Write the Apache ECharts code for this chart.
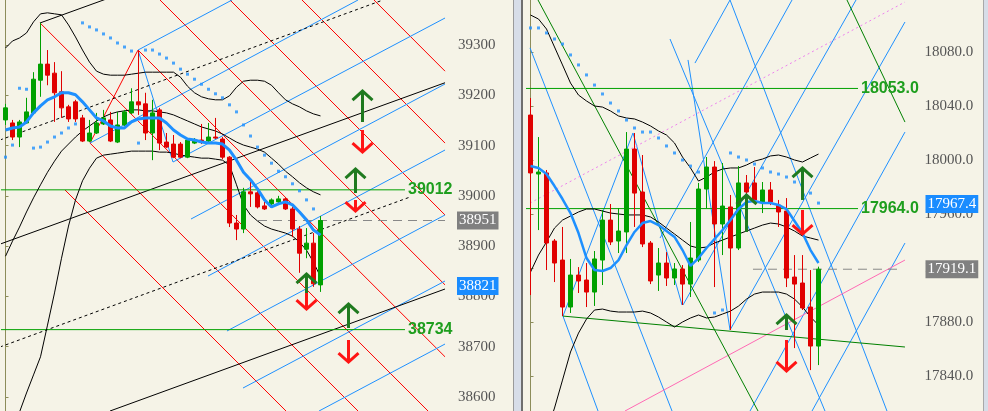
<!DOCTYPE html>
<html><head><meta charset="utf-8">
<script src="https://cdn.jsdelivr.net/npm/echarts@6/dist/echarts.min.js"></script>
<style>html,body{margin:0;padding:0;background:#f5f3e7;}#c{width:988px;height:411px;}</style>
</head><body><div id="c"></div>
<script>
// ---------- LEFT PANEL DATA ----------
// candles: [open, close, low, high]
const leftCandles = [
[39151,39175,39141,39183],[39145,39117,39111,39151],[39117,39147,39097,39151],[39145,39167,39143,39195],
[39165,39232,39161,39246],[39230,39262,39197,39344],[39262,39240,39220,39290],[39244,39205,39147,39266],
[39207,39175,39155,39248],[39177,39153,39147,39181],[39187,39153,39147,39191],[39155,39109,39107,39161],
[39109,39125,39107,39151],[39125,39145,39123,39165],[39143,39155,39141,39171],[39151,39109,39107,39167],
[39107,39141,39105,39167],[39141,39167,39139,39171],[39165,39187,39163,39214],[39187,39181,39161,39290],
[39183,39125,39111,39205],[39125,39165,39071,39191],[39171,39105,39091,39175],[39107,39097,39095,39125],
[39103,39077,39075,39121],[39103,39077,39075,39107],[39077,39111,39075,39113],[39105,39111,39103,39115],
[39111,39107,39103,39143],[39109,39117,39105,39145],[39117,39115,39113,39155],[39113,39077,39073,39117],
[39077,38946,38938,39079],[38946,38934,38912,38962],[38934,39008,38926,39016],[39008,39004,38978,39028],
[39006,38978,38975,39010],[38980,38974,38972,38988],[38984,38992,38982,38995],[38988,38994,38986,39000],
[38994,38974,38972,38997],[38974,38934,38918,38978],[38934,38886,38847,38940],[38894,38906,38876,38936],
[38906,38825,38819,38926],[38823,38951,38809,38960]];
const leftMA = [39131,39135,39137,39147,39165,39179,39191,39197,39205,39205,39201,39187,39171,39155,39149,39139,39135,39135,39147,39153,39155,39155,39155,39145,39131,39121,39113,39111,39107,39105,39105,39103,39091,39071,39047,39032,39014,38992,38978,38984,38988,38982,38968,38952,38932,38922];
const leftUpper = [39294,39308,39314,39324,39346,39362,39364,39362,39360,39340,39316,39290,39266,39248,39242,39240,39240,39240,39242,39244,39246,39246,39246,39246,39246,39236,39218,39205,39197,39193,39191,39191,39199,39216,39228,39230,39230,39228,39220,39205,39191,39183,39177,39169,39163,39159];
const leftMiddle = [38880,38910,38938,38968,38996,39022,39047,39069,39089,39103,39117,39129,39139,39149,39157,39163,39167,39169,39171,39171,39169,39169,39167,39165,39161,39155,39149,39143,39137,39133,39129,39123,39115,39107,39101,39097,39093,39087,39075,39063,39049,39038,39026,39016,39008,39002];
const leftLower = [38475,38524,38570,38608,38644,38680,38743,38807,38876,38940,38992,39030,39055,39075,39081,39083,39085,39087,39089,39089,39089,39089,39087,39087,39085,39081,39079,39077,39075,39075,39073,39071,39061,39022,38982,38962,38950,38940,38934,38930,38926,38920,38908,38892,38868,38839];
const leftSAR = [39077,39101,39214,39212,39095,39097,39107,39117,39125,39135,39143,39344,39336,39330,39322,39314,39304,39296,39288,39105,39290,39290,39282,39274,39264,39252,39242,39232,39222,39212,39203,39195,39181,39167,39141,39119,39097,39081,39065,39049,39038,39024,39010,38992,38974,null];
// drawn line objects: [[index, price], [index, price]]
const leftRedLines = [
[[8.5,39011.7],[40.07,38572.2]],[[12.07,39105],[50.36,38572.2]],[[4.93,39344],[60.36,38572.2]],
[[18.93,39290],[62.79,38680]],[[22.07,39389.5],[62.79,38823]],[[32.07,39389.5],[62.79,38962]],
[[42.36,39389.5],[62.79,39105]],[[52.64,39389.5],[62.79,39248]],[[12.07,39105],[18.93,39290]]];
const leftBlueLines = [
[[18.93,39290],[32.36,39389.5]],[[12.07,39105],[50.36,39389.5]],[[23.93,39067.3],[62.79,39353.7]],
[[26.5,38954],[62.79,39222.5]],[[28.93,38840.6],[62.79,39091.2]],[[31.64,38731.3],[62.79,38962]],
[[33.93,38617.9],[62.79,38830.7]],[[44.79,38572.2],[62.79,38705.4]],[[18.93,39290],[23.93,39067.3]]];
const leftBlackLines = [
[[4.93,39343.8],[14.5,39392]],[[-0.79,38904],[62.79,39225]],[[14.93,38572.2],[62.79,38814.8]]];
const leftBlackDashed = [
[[-0.79,39111.1],[53.93,39389.5]],[[-0.79,38699.5],[57.79,38997.7]]];
const leftLevels = [39012, 38734];
const leftLevelSpan = [-0.79, 57.07];
const leftLastLine = [[36.07,38951],[62.79,38951]];
const leftTags = [[38951,'38951'],[38821,'38821']];
const leftUpArrows = [[51,39210.5,39146.9],[50,39055.4,39005.7],[43,38846.6,38806.8],[49,38786.9,38737.2]];
const leftDownArrows = [[51,39085.2,39131.0],[50,38967.9,38991.8],[43,38773.0,38806.8],[49,38667.6,38713.4]];
const leftTicks = [38600,38700,38800,38900,39000,39100,39200,39300];

// ---------- RIGHT PANEL DATA ----------
const rightCandles = [
[18033.3,17990.4,17900.0,18045.9],[17989.6,17991.1,17948.1,18017.0],[17990.4,17938.5,17918.5,17992.6],
[17940.0,17923.7,17909.6,17941.5],[17925.9,17891.1,17884.4,17950.4],[17891.1,17914.8,17886.7,17926.7],
[17914.8,17910.4,17901.5,17920.7],[17911.1,17902.2,17891.1,17923.7],[17902.2,17926.7,17891.9,17932.6],
[17925.9,17955.5,17907.4,17963.0],[17955.5,17939.3,17937.0,17967.4],[17940.0,17947.4,17931.1,17964.4],
[17946.7,18008.1,17931.1,18020.7],[18008.1,17975.5,17950.4,18020.0],[17976.3,17937.8,17935.5,18003.7],
[17938.5,17910.4,17908.1,17940.0],[17914.8,17923.7,17903.0,17934.8],[17923.7,17912.6,17906.7,17931.8],
[17912.6,17919.3,17907.4,17923.7],[17919.3,17908.1,17892.6,17922.2],[17908.1,17927.4,17898.5,17954.1],
[17925.9,17978.5,17924.4,17983.0],[17978.5,17994.8,17964.4,18002.2],[17994.8,17952.6,17905.9,17999.2],
[17952.6,17965.9,17929.6,17997.8],[17965.2,17934.8,17874.1,17974.1],[17934.8,17983.0,17933.3,17995.5],
[17983.0,17976.3,17970.4,17988.9],[17983.0,17970.4,17968.1,17994.8],[17968.9,17977.8,17960.7,17983.7],
[17977.8,17968.9,17966.6,17983.7],[17966.6,17961.5,17950.4,17970.4],[17962.2,17912.6,17905.9,17971.8],
[17913.3,17908.1,17860.7,17929.6],[17908.9,17890.4,17888.9,17929.6],[17891.1,17862.2,17844.4,17918.5],
[17862.2,17919.1,17848.1,17921.0]];
const rightMA = [17995.5,17994.1,17989.6,17980.7,17971.1,17960.7,17945.9,17927.4,17918.5,17917.8,17920.0,17925.9,17937.0,17946.7,17953.3,17954.8,17951.8,17947.4,17943.0,17933.3,17921.5,17927.4,17934.8,17941.5,17948.1,17955.5,17963.7,17968.9,17969.6,17968.1,17968.1,17966.7,17963.7,17954.8,17945.9,17933.3,17923.7];
const rightUpper = [18107.4,18104.4,18097.0,18083.7,18070.4,18057.0,18048.1,18043.7,18040.0,18039.2,18036.3,18032.6,18031.1,18030.4,18028.1,18025.2,18021.5,18018.5,18012.6,18002.2,17994.1,17984.4,17987.4,17991.1,17993.3,17994.1,17994.1,17996.3,17999.2,18000.7,18003.0,18003.7,18002.2,18000.0,17998.5,18001.5,18004.4];
const rightMiddle = [17917.0,17929.6,17939.3,17949.6,17955.5,17958.5,17961.5,17963.7,17963.7,17962.2,17960.7,17960.0,17959.3,17959.3,17959.3,17957.8,17954.1,17949.6,17945.2,17940.7,17936.3,17934.8,17935.5,17938.5,17940.7,17943.0,17945.2,17947.4,17949.6,17951.8,17953.3,17952.6,17950.4,17947.4,17943.7,17942.2,17940.7];
const rightLower = [null,17770.4,17798.5,17816.3,17837.0,17857.8,17871.8,17882.2,17888.9,17889.6,17888.1,17887.4,17887.4,17887.4,17888.1,17886.7,17883.7,17880.0,17876.3,17880.0,17883.0,17885.2,17883.0,17883.7,17885.9,17888.1,17891.8,17897.0,17900.7,17902.2,17902.2,17902.2,17900.7,17897.0,17891.1,17883.7,17877.8];
const rightSAR = [18097.8,18097.8,18094.1,18089.6,18085.9,18077.8,18070.4,18063.0,18055.5,18048.9,18042.2,18036.3,18029.6,18023.7,18020.7,18020.7,18016.3,18010.4,18005.2,18000.0,17995.5,17991.1,null,17886.7,17888.9,18005.2,18002.2,18000.0,17997.0,17994.1,17991.1,17989.6,17987.4,17983.7,17980.0,17975.5,17968.1];
const rightBlueLines = [
[[-0.06,18083.0],[17.69,17814.1]],[[4.06,17884.4],[8.44,17814.1]],[[17.44,18089.6],[36.81,17814.1]],
[[24.94,18118.5],[44.56,17814.1]],[[4.06,17884.4],[12.81,18020.0]],[[12.81,18020.0],[18.94,17892.6]],
[[19.69,18074.1],[24.94,17874.1]],[[20.56,18071.8],[24.94,18118.5]],[[16.19,17942.2],[32.69,18118.5]],
[[19.06,17892.6],[40.69,18118.5]],[[24.94,17874.1],[46.81,18102.2]],[[27.44,17814.1],[46.81,18020.7]],
[[35.19,17814.1],[46.81,17938.5]]];
const rightPinkDotted = [[[-0.06,17968.1],[46.81,18117.0]]];
const rightPinkSolid = [[[11.81,17814.1],[46.81,17925.9]]];
const rightGreenLines = [
[[0.94,18118.5],[28.44,17814.1]],[[39.56,18118.5],[46.81,18028.1]],[[4.06,17884.4],[46.81,17861.5]]];
const rightLevels = [18053.0, 17964.0];
const rightLevelSpan = [-0.94, 40.94];
const rightLastLine = [[27.81,17919.1],[45.94,17919.1]];
const rightTags = [[17967.4,'17967.4'],[17919.1,'17919.1']];
const rightUpArrows = [[34,17994.8,17970.4],[27,17974.8,17946.7],[32,17885.9,17874.1]];
const rightDownArrows = [[34,17944.4,17963.0],[32,17843.0,17866.7]];
const rightTicks = [17840,17880,17920,17960,18000,18040,18080];

// ---------- CHART ----------
const BG = '#f5f3e7', UPC = '#00a000', DNC = '#e00000', BLUE = '#1e90ff';
const AXC = '#8c8c5a', ARR_G = '#1f7a1f', ARR_R = '#ff1414';
const leftCats = Array.from({length: 64}, (_, i) => String(i));
const rightCats = Array.from({length: 49}, (_, i) => String(i));
const serif = 'Liberation Serif, Times New Roman, serif';

function segSeries(data, x, y, color, type, z) {
  return {type: 'lines', coordinateSystem: 'cartesian2d', xAxisIndex: x, yAxisIndex: y, clip: true,
    silent: true, z: z || 1, polyline: false,
    lineStyle: {color: color, width: 1, type: type || 'solid', opacity: 1},
    data: data.map(s => ({coords: s}))};
}
function levelSeries(v, span, x, y, txt) {
  return {type: 'line', xAxisIndex: x, yAxisIndex: y, symbol: 'none', silent: true, z: 2, clip: false,
    lineStyle: {color: '#00a000', width: 1}, data: [[span[0], v], [span[1], v]],
    endLabel: {show: true, formatter: txt, color: '#1e9e1e', fontWeight: 'bold', fontSize: 16,
      fontFamily: 'Liberation Sans, Arial, sans-serif', distance: 3}};
}
function dashSeries(d, x, y) {
  return {type: 'line', xAxisIndex: x, yAxisIndex: y, symbol: 'none', silent: true, z: 2,
    lineStyle: {color: '#888', width: 1, type: [9, 6]}, data: d};
}
function bandSeries(d, x, y) {
  return {type: 'line', xAxisIndex: x, yAxisIndex: y, symbol: 'none', silent: true, z: 3,
    lineStyle: {color: '#000', width: 1}, data: d, connectNulls: false};
}
// price tags on the axis: a tiny invisible line series ending at the grid edge, with an end label
function tagSeries(t, xEnd, x, y, bg) {
  return {type: 'line', xAxisIndex: x, yAxisIndex: y, symbol: 'none', silent: true, z: 20, clip: false,
    lineStyle: {width: 0, color: 'rgba(0,0,0,0)'}, data: [[xEnd - 0.2, t[0]], [xEnd, t[0]]],
    endLabel: {show: true, formatter: t[1], distance: 7, color: '#fff', backgroundColor: bg,
      padding: [2, 2, 1, 2], fontFamily: serif, fontSize: 15}};
}
function arrowRender(color) {
  return function (params, api) {
    const x = api.value(0);
    const tip = api.coord([x, api.value(1)]);
    const tail = api.coord([x, api.value(2)]);
    const dir = tail[1] > tip[1] ? 1 : -1;
    const h = 10;
    return {type: 'group', children: [
      {type: 'line', shape: {x1: tip[0], y1: tip[1] + dir, x2: tail[0], y2: tail[1]},
        style: {stroke: color, lineWidth: 3}},
      {type: 'polyline', shape: {points: [[tip[0] - h, tip[1] + dir * h], [tip[0], tip[1] + dir], [tip[0] + h, tip[1] + dir * h]]},
        style: {stroke: color, lineWidth: 3, fill: null}}
    ]};
  };
}
function arrowSeries(d, x, y, color) {
  return {type: 'custom', xAxisIndex: x, yAxisIndex: y, silent: true, z: 8, clip: false,
    renderItem: arrowRender(color), encode: {x: 0, y: [1, 2]}, data: d};
}
function candleSeries(d, x, y) {
  return {type: 'candlestick', xAxisIndex: x, yAxisIndex: y, barWidth: 4, silent: true, z: 5,
    itemStyle: {color: UPC, color0: DNC, borderColor: UPC, borderColor0: DNC, borderWidth: 1},
    data: d.map(c => [c[0], c[1], c[2], c[3]])};
}
function maSeries(d, x, y, w) {
  return {type: 'line', xAxisIndex: x, yAxisIndex: y, symbol: 'none', silent: true, z: 6,
    lineStyle: {color: BLUE, width: w}, data: d};
}
function sarSeries(d, x, y) {
  return {type: 'scatter', xAxisIndex: x, yAxisIndex: y, symbol: 'rect', symbolSize: 3, silent: true, z: 6,
    itemStyle: {color: BLUE}, data: d.map(v => v == null ? '-' : v)};
}
const axisFont = {fontFamily: serif, fontSize: 15, color: '#555'};

const option = {
  backgroundColor: BG,
  animation: false,
  grid: [
    {left: 2, top: 0, width: 448, height: 411},
    {left: 526.5, top: 0, width: 392, height: 411}
  ],
  xAxis: [
    {type: 'category', gridIndex: 0, data: leftCats, show: false, boundaryGap: true},
    {type: 'category', gridIndex: 1, data: rightCats, show: false, boundaryGap: true},
    {type: 'value', gridIndex: 0, min: -0.5, max: 63.5, show: false, position: 'top'},
    {type: 'value', gridIndex: 1, min: -0.5, max: 48.5, show: false, position: 'top'}
  ],
  yAxis: [
    {type: 'value', gridIndex: 0, position: 'right', offset: 3, min: 38572.2, max: 39389.5, scale: true,
      axisLine: {show: true, lineStyle: {color: AXC}},
      axisTick: {show: true, length: 3, customValues: leftTicks, lineStyle: {color: AXC}},
      axisLabel: Object.assign({customValues: leftTicks, margin: 5, formatter: v => String(v)}, axisFont),
      splitLine: {show: false}},
    {type: 'value', gridIndex: 1, position: 'right', min: 17814.1, max: 18118.5, scale: true,
      axisLine: {show: true, lineStyle: {color: AXC}},
      axisTick: {show: true, length: 3, customValues: rightTicks, lineStyle: {color: AXC}},
      axisLabel: Object.assign({customValues: rightTicks, margin: 6, formatter: v => v.toFixed(1)}, axisFont),
      splitLine: {show: false}}
  ],
  graphic: [
    {type: 'rect', shape: {x: 513, y: 0, width: 10, height: 411}, style: {fill: '#d7dde8'}, z: 100},
    {type: 'line', shape: {x1: 513.5, y1: 0, x2: 513.5, y2: 411}, style: {stroke: '#9a9a9a', lineWidth: 1}, z: 101},
    {type: 'line', shape: {x1: 522, y1: 0, x2: 522, y2: 411}, style: {stroke: '#6e6e6e', lineWidth: 2}, z: 101},
    {type: 'rect', shape: {x: 983, y: 0, width: 5, height: 411}, style: {fill: '#d7dde8'}, z: 100},
    {type: 'line', shape: {x1: 983.5, y1: 0, x2: 983.5, y2: 411}, style: {stroke: '#a8a8a8', lineWidth: 1}, z: 101}
  ],
  series: [
    // left
    segSeries(leftRedLines, 2, 0, '#ff0000'),
    segSeries(leftBlueLines, 2, 0, BLUE),
    segSeries(leftBlackLines, 2, 0, '#000000'),
    segSeries(leftBlackDashed, 2, 0, '#000000', [3, 3]),
    levelSeries(leftLevels[0], leftLevelSpan, 2, 0, String(leftLevels[0])),
    levelSeries(leftLevels[1], leftLevelSpan, 2, 0, String(leftLevels[1])),
    dashSeries(leftLastLine, 2, 0),
    bandSeries(leftUpper, 0, 0), bandSeries(leftMiddle, 0, 0), bandSeries(leftLower, 0, 0),
    candleSeries(leftCandles, 0, 0),
    maSeries(leftMA, 0, 0, 3),
    sarSeries(leftSAR, 0, 0),
    arrowSeries(leftUpArrows, 2, 0, ARR_G),
    arrowSeries(leftDownArrows, 2, 0, ARR_R),
    tagSeries(leftTags[0], 63.5, 2, 0, '#808080'),
    tagSeries(leftTags[1], 63.5, 2, 0, '#1a8cff'),
    // right
    segSeries(rightBlueLines, 3, 1, BLUE),
    segSeries(rightPinkDotted, 3, 1, '#ee82ee', [2, 3]),
    segSeries(rightPinkSolid, 3, 1, '#ff69b4'),
    segSeries(rightGreenLines, 3, 1, '#008000'),
    levelSeries(rightLevels[0], rightLevelSpan, 3, 1, rightLevels[0].toFixed(1)),
    levelSeries(rightLevels[1], rightLevelSpan, 3, 1, rightLevels[1].toFixed(1)),
    dashSeries(rightLastLine, 3, 1),
    bandSeries(rightUpper, 1, 1), bandSeries(rightMiddle, 1, 1), bandSeries(rightLower, 1, 1),
    candleSeries(rightCandles, 1, 1),
    maSeries(rightMA, 1, 1, 2.5),
    sarSeries(rightSAR, 1, 1),
    arrowSeries(rightUpArrows, 3, 1, ARR_G),
    arrowSeries(rightDownArrows, 3, 1, ARR_R),
    tagSeries(rightTags[0], 48.5, 3, 1, '#1a8cff'),
    tagSeries(rightTags[1], 48.5, 3, 1, '#808080')
  ]
};
const chart = echarts.init(document.getElementById('c'), null, {renderer: 'canvas'});
chart.setOption(option);
</script>
</body></html>
